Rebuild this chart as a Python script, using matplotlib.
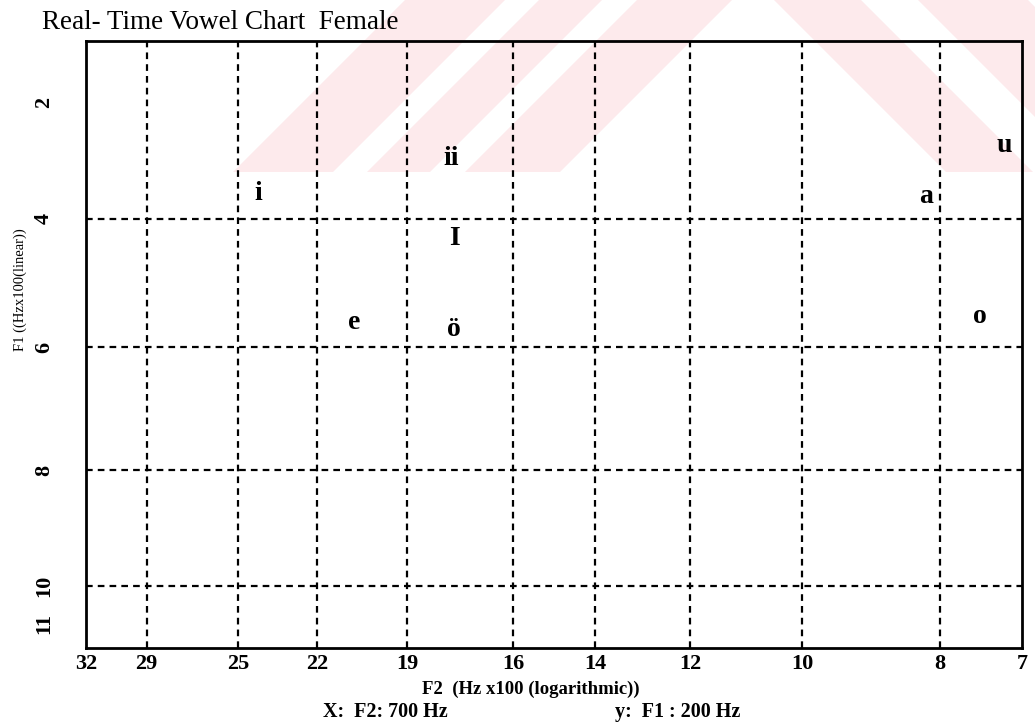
import numpy as np
import matplotlib
matplotlib.use("Agg")
import matplotlib.pyplot as plt
from matplotlib.patches import Polygon

plt.rcParams['font.family'] = ['Liberation Serif', 'DejaVu Serif']

# ---- data ----
vowels = ['i', 'ii', 'I', 'e', 'ö', 'a', 'u', 'o']
f2_vals = [24.2, 17.7, 17.6, 20.7, 17.6, 8.18, 7.2, 7.5]      # F2 (Hz x100)
f1_vals = [3.56, 2.97, 4.30, 5.61, 5.73, 3.62, 2.74, 5.53]    # F1 (Hz x100)

x_ticks = [32, 29, 25, 22, 19, 16, 14, 12, 10, 8, 7]
x_tick_labels = ['32', '29', '25', '22', '19', '16', '14', '12', '10', '8', '7']
x_grid = [29, 25, 22, 19, 16, 14, 12, 10, 8]
y_ticks = [2, 4, 6, 8, 10, 11]
y_tick_labels = ['2', '4', '6', '8', '10', '11']
y_grid = [4, 6, 8, 10]

# axis calibration of the (nonuniform) F1 axis of the original chart
y_cal_vals = [0.96, 2, 4, 6, 8, 10, 11, 11.68]
y_cal_pos = [41, 102, 219, 347, 470, 586, 623, 648]


def _fwd(v):
    v = np.asarray(v, dtype=float)
    xv = np.array(y_cal_vals); yp = np.array(y_cal_pos, dtype=float)
    out = np.interp(v, xv, yp)
    lo = v < xv[0]; hi = v > xv[-1]
    s0 = (yp[1] - yp[0]) / (xv[1] - xv[0]); s1 = (yp[-1] - yp[-2]) / (xv[-1] - xv[-2])
    out = np.where(lo, yp[0] + (v - xv[0]) * s0, out)
    out = np.where(hi, yp[-1] + (v - xv[-1]) * s1, out)
    return out


def _inv(p):
    p = np.asarray(p, dtype=float)
    xv = np.array(y_cal_vals); yp = np.array(y_cal_pos, dtype=float)
    out = np.interp(p, yp, xv)
    lo = p < yp[0]; hi = p > yp[-1]
    s0 = (xv[1] - xv[0]) / (yp[1] - yp[0]); s1 = (xv[-1] - xv[-2]) / (yp[-1] - yp[-2])
    out = np.where(lo, xv[0] + (p - yp[0]) * s0, out)
    out = np.where(hi, xv[-1] + (p - yp[-1]) * s1, out)
    return out


W, H = 1035, 724
fig = plt.figure(figsize=(W / 100, H / 100), dpi=100)
fig.patch.set_facecolor('white')

# faint scanned-page watermark (decoration, figure pixel space)
wm_color = '#fdeaec'
wm_bottom = 172
for x0, x1 in [(233, 333), (367, 430), (465, 560)]:
    pts = [(x0, wm_bottom), (x1, wm_bottom), (x1 + wm_bottom, 0), (x0 + wm_bottom, 0)]
    fig.add_artist(Polygon([(px / W, 1 - py / H) for px, py in pts],
                           closed=True, transform=fig.transFigure,
                           facecolor=wm_color, edgecolor='none', zorder=0))
for x0, x1 in [(946, 1033), (1090, 1200)]:
    pts = [(x0, wm_bottom), (x1, wm_bottom), (x1 - wm_bottom, 0), (x0 - wm_bottom, 0)]
    fig.add_artist(Polygon([(px / W, 1 - py / H) for px, py in pts],
                           closed=True, transform=fig.transFigure,
                           facecolor=wm_color, edgecolor='none', zorder=0))

ax = fig.add_axes([86 / W, 1 - 648 / H, (1022 - 86) / W, (648 - 41) / H])
ax.set_facecolor('none')
ax.set_zorder(2)

ax.set_xscale('log')
ax.set_xlim(32, 7)
ax.set_yscale('function', functions=(_fwd, _inv))
ax.set_ylim(11.68, 0.96)

ax.set_xticks(x_ticks)
ax.set_xticklabels(x_tick_labels)
ax.xaxis.set_minor_locator(matplotlib.ticker.NullLocator())
ax.set_yticks(y_ticks)
ax.set_yticklabels(y_tick_labels, rotation=90, va='center')
ax.yaxis.set_minor_locator(matplotlib.ticker.NullLocator())

ax.tick_params(axis='both', length=0)
ax.tick_params(axis='x', pad=4)
ax.tick_params(axis='y', pad=23)
for lab in ax.get_xticklabels() + ax.get_yticklabels():
    lab.set_fontsize(16)
    lab.set_fontweight('bold')

for s in ax.spines.values():
    s.set_linewidth(2)
    s.set_color('black')

for xv in x_grid:
    ax.axvline(xv, color='black', lw=1.6, ls=(0, (3, 2.3)), zorder=1)
for yv in y_grid:
    ax.axhline(yv, color='black', lw=1.6, ls=(0, (3, 2.3)), zorder=1)

for lab, xv, yv in zip(vowels, f2_vals, f1_vals):
    ax.text(xv, yv, lab, ha='center', va='center', fontsize=20,
            fontweight='bold', color='black', zorder=3)

fig.text(42 / W, 1 - 29 / H, 'Real- Time Vowel Chart  Female', fontsize=19.5,
         ha='left', va='baseline', zorder=3)
fig.text(20 / W, 1 - 290 / H, 'F1 ((Hzx100(linear))', fontsize=10.5,
         rotation=90, ha='center', va='center')
fig.text(531 / W, 1 - 689 / H, 'F2  (Hz x100 (logarithmic))', fontsize=13.5,
         fontweight='bold', ha='center', va='center')
fig.text(323 / W, 1 - 712 / H, 'X:  F2: 700 Hz', fontsize=14.5,
         fontweight='bold', ha='left', va='center')
fig.text(615 / W, 1 - 712 / H, 'y:  F1 : 200 Hz', fontsize=14.5,
         fontweight='bold', ha='left', va='center')

fig.savefig('out.png', dpi=100)
